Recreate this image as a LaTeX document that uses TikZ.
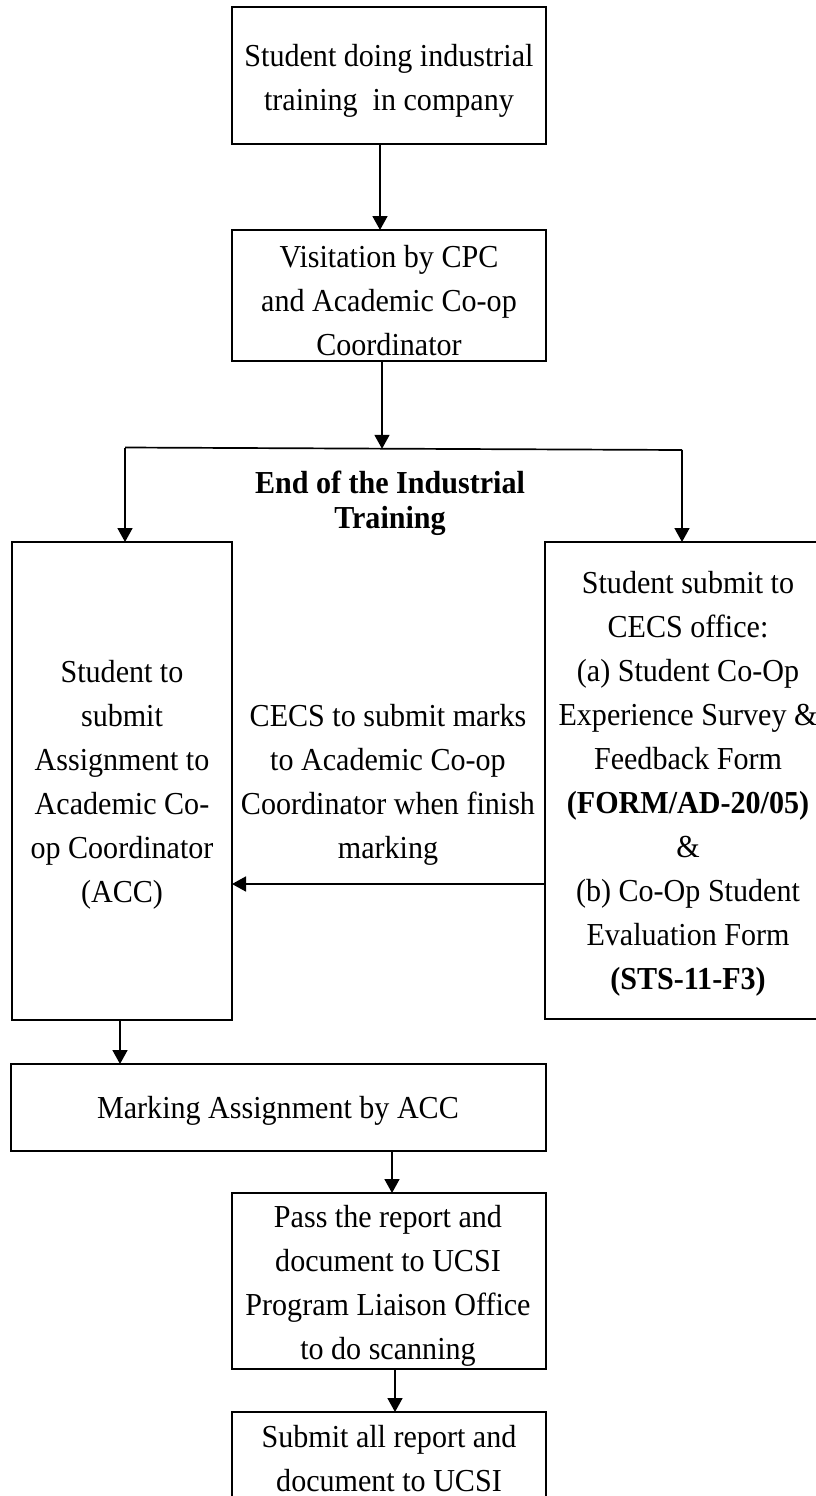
\documentclass[tikz,border=0pt]{standalone}
\usepackage{fontspec}
\setmainfont{Liberation Serif}[FakeStretch=0.94]
\usetikzlibrary{arrows.meta}
\begin{document}
\begin{tikzpicture}[x=1pt,y=-1pt,
  box/.style={draw,line width=2.7pt,inner sep=0pt,outer sep=0pt},
  txt/.style={align=center,inner sep=0pt,font=\fontsize{32}{44}\selectfont},
  boldtxt/.style={align=center,inner sep=0pt,font=\fontsize{32}{35}\selectfont\bfseries},
  conn/.style={line width=1.7pt},
  arr/.style={line width=1.7pt,-{Triangle[width=15pt,length=14pt]}}]
\useasboundingbox (0,0) rectangle (816,1496);
% boxes
\node[box,minimum width=314pt,minimum height=137pt] (b1) at (389,75.5) {};
\node[box,minimum width=314pt,minimum height=131pt] (b2) at (389,295.5) {};
\node[box,minimum width=220pt,minimum height=478pt] (left) at (122,781) {};
\node[box,minimum width=286pt,minimum height=477pt] (right) at (688,780.5) {};
\node[box,minimum width=535pt,minimum height=87pt] (mark) at (278.5,1107.5) {};
\node[box,minimum width=314pt,minimum height=176pt] (pass) at (389,1281) {};
\node[box,minimum width=314pt,minimum height=108pt] (sub) at (389,1466) {};
% texts
\node[txt] (t1) at (389,81) {Student doing industrial\\training~ in company};
\node[txt] (t2) at (389,301) {Visitation by CPC\\and Academic Co-op\\Coordinator};
\node[boldtxt] (tend) at (390,503) {End of the Industrial\\Training};
\node[txt] (tl) at (122,785) {Student to\\submit\\Assignment to\\Academic Co-\\op Coordinator\\(ACC)};
\node[txt] (tm) at (388,784.5) {CECS to submit marks\\to Academic Co-op\\Coordinator when finish\\marking};
\node[txt] (tr) at (688,784) {Student submit to\\CECS office:\\(a) Student Co-Op\\Experience Survey \&\\Feedback Form\\\textbf{(FORM/AD-20/05)}\\\&\\(b) Co-Op Student\\Evaluation Form\\\textbf{(STS-11-F3)}};
\node[txt] (tmk) at (278,1110.5) {Marking Assignment by ACC};
\node[txt] (tp) at (388,1285.5) {Pass the report and\\document to UCSI\\Program Liaison Office\\to do scanning};
\node[txt] (ts) at (389,1458.5) {Submit all report and\\document to UCSI};
% helper coordinates
\coordinate (x380) at (380,0);
\coordinate (x382) at (382,0);
\coordinate (hl) at (125,447.5);
\coordinate (hr) at (682,450);
\coordinate (hm) at (382,448.8);
\coordinate (yarr) at (0,884);
\coordinate (x120) at (120,0);
\coordinate (x392) at (392,0);
\coordinate (x395) at (395,0);
% connectors
\draw[arr] (b1.south -| x380) -- (b2.north -| x380);
\draw[arr] (b2.south -| x382) -- (hm);
\draw[conn] (hl) -- (hr);
\draw[arr] (hl) -- (left.north -| hl);
\draw[arr] (hr) -- (right.north -| hr);
\draw[arr] (right.west |- yarr) -- (left.east |- yarr);
\draw[arr] (left.south -| x120) -- (mark.north -| x120);
\draw[arr] (mark.south -| x392) -- (pass.north -| x392);
\draw[arr] (pass.south -| x395) -- (sub.north -| x395);
\end{tikzpicture}
\end{document}
